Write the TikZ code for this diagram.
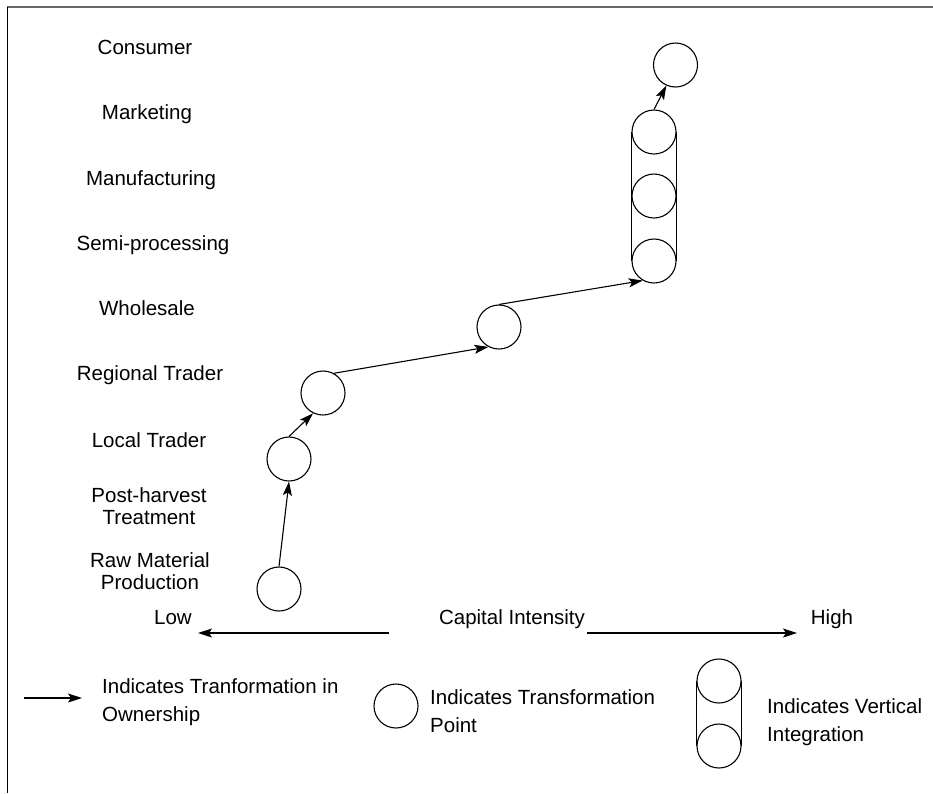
\documentclass[tikz,border=0pt]{standalone}
\usepackage{fontspec}
\setmainfont{Liberation Sans}
\usetikzlibrary{arrows.meta}
\begin{document}
\begin{tikzpicture}[x=1pt,y=-1pt,
  lbl/.style={font=\fontsize{20.5}{22}\selectfont, align=center, inner sep=0pt},
  leg/.style={font=\fontsize{20.5}{27.5}\selectfont, align=left, inner sep=0pt, anchor=west},
  tp/.style={circle, draw, line width=1.1pt, minimum size=44pt, inner sep=0pt},
  own/.style={line width=1.1pt, -{Stealth[length=14pt,width=9pt,inset=3pt]}},
  axis/.style={line width=1.1pt, -{Stealth[length=14pt,width=9pt,inset=3pt]}},
  vint/.style={line width=1.1pt}]
\useasboundingbox (0,0) rectangle (933,793);
% frame
\draw[black!60, line width=1.5pt] (7,7) -- (933,7);
\draw[line width=1pt] (7,7) -- (7,793);
% stage labels
\node[lbl, anchor=base] (lcons) at (145,54) {Consumer};
\node[lbl, anchor=base] (lmark) at (147,119) {Marketing};
\node[lbl, anchor=base] (lmanu) at (151,185) {Manufacturing};
\node[lbl, anchor=base] (lsemi) at (153,250) {Semi-processing};
\node[lbl, anchor=base] (lwhol) at (147,315) {Wholesale};
\node[lbl, anchor=base] (lreg) at (150,380) {Regional Trader};
\node[lbl, anchor=base] (lloc) at (149,447) {Local Trader};
\node[lbl] (lpost) at (149,506) {Post-harvest\\Treatment};
\node[lbl] (lraw) at (150,571) {Raw Material\\Production};
% transformation points
\node[tp] (raw) at (279,589) {};
\node[tp] (local) at (289,459) {};
\node[tp] (regional) at (323,393) {};
\node[tp] (wholesale) at (499,327) {};
\node[tp] (semi) at (654,261) {};
\node[tp] (manu) at (654,196) {};
\node[tp] (mark) at (654,132) {};
\node[tp] (cons) at (675.5,65) {};
% vertical integration
\draw[vint] (mark.west) -- (semi.west);
\draw[vint] (mark.east) -- (semi.east);
% ownership transfers
\draw[own] (raw.north) -- (local.south);
\draw[own] (local.north) -- (regional.244);
\draw[own] (regional.61) -- (wholesale.242);
\draw[own] (wholesale.north) -- (semi.240);
\draw[own] (mark.north) -- (cons.246);
% capital intensity axis
\node[lbl, anchor=base] (low) at (173,624) {Low};
\node[lbl, anchor=base] (cap) at (512,624) {Capital Intensity};
\node[lbl, anchor=base] (high) at (832,624) {High};
\coordinate (al1) at (389,633);
\coordinate (al2) at (198,633);
\coordinate (ar1) at (587,633);
\coordinate (ar2) at (797,633);
\draw[axis] (al1) -- (al2);
\draw[axis] (ar1) -- (ar2);
% legend
\coordinate (la1) at (24,698);
\coordinate (la2) at (82,698);
\draw[own] (la1) -- (la2);
\node[leg] (t1) at (102,702) {Indicates Tranformation in\\Ownership};
\node[tp] (legc) at (396,706) {};
\node[leg] (t2) at (430,711) {Indicates Transformation\\Point};
\node[tp] (vt) at (719,681) {};
\node[tp] (vb) at (719,746) {};
\draw[vint] (vt.west) -- (vb.west);
\draw[vint] (vt.east) -- (vb.east);
\node[leg] (t3) at (767,722) {Indicates Vertical\\Integration};
\end{tikzpicture}
\end{document}
